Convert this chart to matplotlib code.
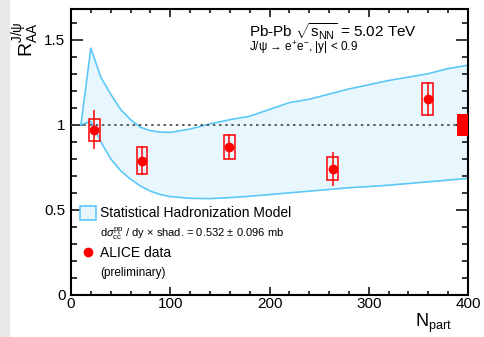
import numpy as np
import matplotlib
matplotlib.use('Agg')
import matplotlib.pyplot as plt
from matplotlib.patches import Rectangle

plt.rcParams['font.family'] = ['Liberation Sans', 'DejaVu Sans']
plt.rcParams['mathtext.fontset'] = 'custom'
plt.rcParams['mathtext.rm'] = 'Liberation Sans'
plt.rcParams['mathtext.it'] = 'Liberation Sans:italic'
plt.rcParams['mathtext.bf'] = 'Liberation Sans:bold'

# ALICE data points
npart = [23.5, 71.5, 159.5, 263.5, 359.5]
raa = [0.97, 0.79, 0.87, 0.742, 1.152]
stat_err = [0.115, 0.088, 0.074, 0.10, 0.10]
sys_err = [0.064, 0.081, 0.071, 0.069, 0.096]
sys_half_width = 5.5

# global uncertainty
global_err = 0.065

# statistical hadronization model band
model_n = [10, 20, 30, 40, 50, 60, 70, 80, 90, 100, 120, 140, 160, 180, 200,
           220, 240, 260, 280, 300, 320, 340, 360, 380, 400]
model_hi = [1.0, 1.45, 1.28, 1.18, 1.09, 1.03, 0.985, 0.965, 0.957, 0.955,
            0.975, 1.005, 1.03, 1.05, 1.09, 1.13, 1.15, 1.18, 1.21, 1.235,
            1.26, 1.28, 1.30, 1.33, 1.35]
model_lo = [1.0, 1.02, 0.90, 0.80, 0.73, 0.68, 0.64, 0.61, 0.59, 0.578,
            0.568, 0.566, 0.572, 0.58, 0.59, 0.60, 0.61, 0.62, 0.63, 0.637,
            0.645, 0.655, 0.665, 0.675, 0.685]

red = '#ff0000'
band_line = '#5cc8f8'
band_fill = '#e8f7fe'

fig = plt.figure(figsize=(4.84, 3.37), dpi=100)
fig.patches.append(Rectangle((0, 0), 9 / 484, 1, transform=fig.transFigure,
                             color='#e8e8e8', zorder=-10))
ax = fig.add_axes([71 / 484, 1 - 295 / 337, 397 / 484, 286 / 337])

ax.fill_between(model_n, model_lo, model_hi, color=band_fill, lw=0, zorder=1)
ax.plot(model_n, model_hi, color=band_line, lw=1.2, zorder=2)
ax.plot(model_n, model_lo, color=band_line, lw=1.2, zorder=2)

ax.plot([0, 400], [1, 1], color='#444444', lw=1.2,
        linestyle=(0, (1.5, 2.2)), zorder=3)

# systematic boxes
for x, y, s in zip(npart, raa, sys_err):
    ax.add_patch(Rectangle((x - sys_half_width, y - s), 2 * sys_half_width, 2 * s,
                           fill=False, edgecolor=red, lw=1.1, zorder=4))
ax.errorbar(npart, raa, yerr=stat_err, fmt='o', color=red, ms=6,
            elinewidth=1.1, capsize=0, zorder=5)

ax.add_patch(Rectangle((389, 1 - global_err), 11, 2 * global_err,
                       color=red, lw=0, zorder=6))

ax.set_xlim(0, 400)
ax.set_ylim(0, 1.68)
ax.set_xticks([0, 100, 200, 300, 400])
ax.set_xticks(np.arange(0, 401, 20), minor=True)
ax.set_yticks([0, 0.5, 1, 1.5])
ax.set_yticklabels(['0', '0.5', '1', '1.5'])
ax.set_yticks(np.arange(0, 1.68, 0.1), minor=True)

for sp in ax.spines.values():
    sp.set_linewidth(1.5)
ax.tick_params(which='both', direction='in', top=True, right=True,
               width=1.1, labelsize=11)
ax.tick_params(axis='y', which='major', length=8.5, pad=4)
ax.tick_params(axis='y', which='minor', length=4.3)
ax.tick_params(axis='x', which='major', length=5.5, pad=1.5)
ax.tick_params(axis='x', which='minor', length=3)

# axis titles, ROOT style
ax.text(0.96, -0.06, r'N$_{\mathrm{part}}$', transform=ax.transAxes,
        fontsize=13, ha='right', va='top')
ax.text(-0.073, 0.955, r'$\mathrm{R}_{\mathrm{AA}}^{\mathrm{J/\psi}}$',
        transform=ax.transAxes, fontsize=14, rotation=90,
        ha='right', va='top')

ax.text(0.448, 0.902, r'Pb-Pb $\sqrt{\mathrm{s}_{\mathrm{NN}}}$ = 5.02 TeV',
        transform=ax.transAxes, fontsize=11, va='baseline')
ax.text(0.448, 0.853, r'J/ψ → e$^{+}$e$^{-}$, |y| < 0.9',
        transform=ax.transAxes, fontsize=8.5, va='baseline')

# legend
ax.add_patch(Rectangle((0.023, 0.262), 0.040, 0.049, transform=ax.transAxes,
                       facecolor=band_fill, edgecolor=band_line, lw=1.2,
                       clip_on=False, zorder=7))
ax.text(0.073, 0.272, 'Statistical Hadronization Model', transform=ax.transAxes,
        fontsize=10, va='baseline')
ax.text(0.073, 0.204,
        r'd$\sigma^{\mathrm{pp}}_{\mathrm{c\bar{c}}}$ / dy $\times$ shad. = 0.532 $\pm$ 0.096 mb',
        transform=ax.transAxes, fontsize=8, va='baseline')
ax.plot([0.043], [0.150], 'o', color=red, ms=6, transform=ax.transAxes,
        clip_on=False)
ax.text(0.073, 0.134, 'ALICE data', transform=ax.transAxes,
        fontsize=10, va='baseline')
ax.text(0.073, 0.0675, '(preliminary)', transform=ax.transAxes,
        fontsize=8.5, va='baseline')

fig.savefig('out.png', dpi=100)
